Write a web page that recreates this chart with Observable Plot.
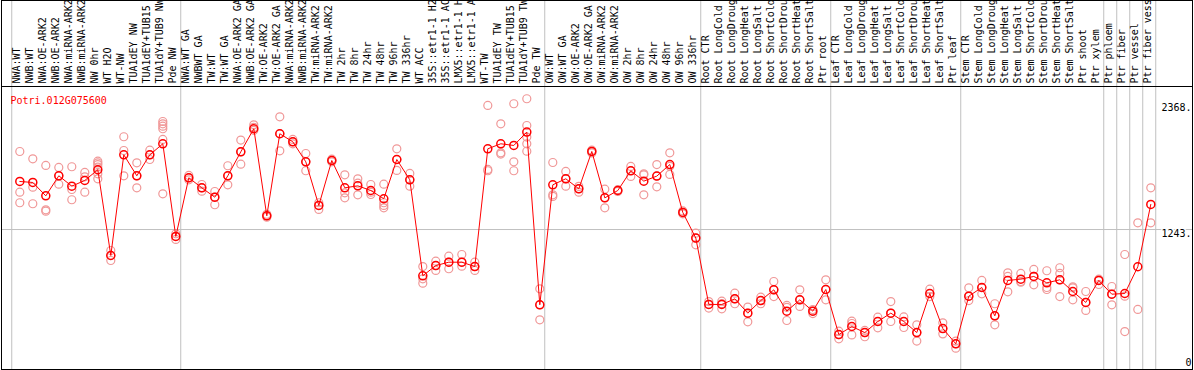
<!DOCTYPE html>
<html><head><meta charset="utf-8">
<script src="https://cdn.jsdelivr.net/npm/d3@7"></script>
<script src="https://cdn.jsdelivr.net/npm/@observablehq/plot@0.6"></script>
<style>
body{margin:0;background:#fff;}
#chart svg{display:block;}
</style></head><body><div id="chart"></div>
<script>
const title = "Potri.012G075600";
const labels = [
"NWA:WT","NWB:WT","NWA:OE-ARK2","NWB:OE-ARK2","NWA:miRNA-ARK2","NWB:miRNA-ARK2","NW 0hr","WT H2O","WT-NW","TUA1dEY NW","TUA1dEY+TUB15","TUA1dY+TUB9 NW","Pde NW",
"NWA:WT GA","NWBWT GA","TW:WT","TW:WT GA","NWA:OE-ARK2 GA","NWB:OE-ARK2 GA","TW:OE-ARK2","TW:OE-ARK2 GA","NWA:miRNA-ARK2","NWB:miRNA-ARK2","TW:miRNA-ARK2","TW:miRNA-ARK2","TW 2hr","TW 8hr","TW 24hr","TW 48hr","TW 96hr","TW 336hr","WT ACC","35S::etr1-1 H2","35S::etr1-1 AC","LMX5::etr1-1 H","LMX5::etr1-1 A","WT-TW","TUA1dEY TW","TUA1dEY+TUB15","TUA1dY+TUB9 TW","Pde TW",
"OW:WT","OW:WT GA","OW:OE-ARK2","OW:OE-ARK2 GA","OW:miRNA-ARK2","OW:miRNA-ARK2","OW 2hr","OW 8hr","OW 24hr","OW 48hr","OW 96hr","OW 336hr",
"Root CTR","Root LongCold","Root LongDroug","Root LongHeat","Root LongSalt","Root ShortCold","Root ShortDrou","Root ShortHeat","Root ShortSalt","Ptr root",
"Leaf CTR","Leaf LongCold","Leaf LongDroug","Leaf LongHeat","Leaf LongSalt","Leaf ShortCold","Leaf ShortDrou","Leaf ShortHeat","Leaf ShortSalt","Ptr leaf",
"Stem CTR","Stem LongCold","Stem LongDroug","Stem LongHeat","Stem LongSalt","Stem ShortCold","Stem ShortDrou","Stem ShortHeat","Stem ShortSalt","Ptr shoot","Ptr xylem",
"Ptr phloem","Ptr fiber","Ptr vessel","Ptr fiber vess"];

const means = [
1674,1665,1545,1725,1632,1683,1779,1010,1913,1725,1913,2012,1181,
1707,1617,1533,1725,1940,2147,1366,2102,2030,1850,1459,1862,1617,1635,1593,1519,1871,1689,828,920,950,950,911,1967,2012,1997,2117,568,
1644,1698,1608,1943,1527,1593,1770,1677,1722,1826,1396,1166,
571,571,621,493,606,702,511,612,511,705,
301,373,319,418,493,418,319,669,355,218,
645,723,469,786,798,822,765,792,687,589,786,
663,669,909,1468];

const reps = [
[1943,1578,1483],[1877,1623,1474],[1818,1420,1408],[1800,1650,1725],[1806,1602,1510],[1755,1578,1716],
[1856,1840,1826,1803,1743,1698],[1055,1010,965],[2075,1952,1725],[1841,1617,1725],[1955,1871,1913],
[2212,2191,2170,2147,2051,1563],[1205,1181,1154],
[1728,1707,1689],[1647,1617,1587],[1584,1533,1465],[1815,1725,1644],[2045,1940,1829],[2182,2160,2133],
[1366,1354,1380],[2254,2102,1949],[2051,2030,2012],[1925,1850,1770],[1483,1459,1423],[1874,1862,1850],
[1734,1572,1527],[1698,1659,1554],[1647,1578,1557],[1650,1483,1459,1438],[1967,1773,1871],[1746,1632,1689],
[911,801,762],[959,920,876],[1004,950,891],[1019,950,914],[950,911,876],
[2356,1782,1770],[2191,1931,1920],[2371,1850,1770],[2416,2176,2072,2012,1946],[711,568,433],
[1844,1554,1540],[1764,1698,1632],[1630,1608,1578],[1955,1943,1930],[1605,1527,1438],[1600,1593,1585],
[1809,1719,1770],[1743,1734,1554],[1826,1722,1626],[1931,1810,1737],[1410,1396,1384],[1210,1166,1106],
[597,571,538],[600,578,532],[672,621,577],[547,493,415],[636,606,577],[777,702,642],[562,545,427],
[702,612,553],[525,511,489],[792,705,612],
[331,301,263],[421,400,298],[338,319,281],[457,418,361],[597,493,418],[459,418,364],[388,319,242],
[708,669,642],[406,355,307],[242,218,179],
[720,645,606],[786,723,666],[577,469,388],[855,822,684],[849,777,770],[885,822,747],[873,723,705],
[900,849,792,642],[729,720,612],[687,589,517],[798,786,750],
[732,663,568],[1019,645,328],[1303,526],[1617,1303]];

const groupStarts = [1,14,42,54,64,74,85,86,87,88,89];
const yTicks = [0,1243,2368];

const idx = labels.map((_, i) => i + 1);
const repData = reps.flatMap((r, i) => r.map(v => ({i: i + 1, v})));
const seps = groupStarts.map(g => g - 0.62);

const W = 1194;
const font = "DejaVu Sans Mono, monospace";
const xScale = {type: "linear", domain: [1, labels.length], range: [19.3, 1150.3], axis: null};
const style = {fontFamily: font, fontSize: "10px", background: "white", color: "black"};

const header = Plot.plot({
  width: W, height: 86, marginTop: 0, marginBottom: 0, marginLeft: 1, marginRight: 2,
  x: xScale,
  style,
  marks: [
    Plot.gridX(seps, {stroke: "#c0c0c0", strokeOpacity: 1}),
    Plot.frame({stroke: "black"}),
    Plot.text(idx, {x: d => d, text: d => labels[d - 1], frameAnchor: "bottom", rotate: -90,
      textAnchor: "start", dy: -3, fill: "black", fontFamily: font, fontSize: 10})
  ]
});

const main = Plot.plot({
  width: W, height: 284, marginTop: 0, marginBottom: 1, marginLeft: 1, marginRight: 2,
  x: xScale,
  y: {domain: [0, yTicks[2]], range: [281.6, 17.6], axis: null},
  style,
  marks: [
    Plot.gridX(seps, {stroke: "#c0c0c0", strokeOpacity: 1}),
    Plot.ruleY([yTicks[1]], {stroke: "#c0c0c0"}),
    Plot.frame({stroke: "black"}),
    Plot.dot(repData, {x: "i", y: "v", r: 4, stroke: "#f09898", strokeWidth: 1.2}),
    Plot.line(idx, {x: d => d, y: d => means[d - 1], stroke: "red", strokeWidth: 1}),
    Plot.dot(idx, {x: d => d, y: d => means[d - 1], r: 4, stroke: "red", strokeWidth: 1.5}),
    Plot.text(yTicks.filter(d => d > 0), {y: d => d, text: d => d + ".", frameAnchor: "right",
      textAnchor: "end", dx: -1, dy: 4, fill: "black", stroke: "white", strokeWidth: 3,
      fontFamily: font, fontSize: 10}),
    Plot.text(yTicks.filter(d => d === 0), {y: d => d, text: d => String(d), frameAnchor: "right",
      textAnchor: "end", dx: -1, dy: -5, fill: "black", fontFamily: font, fontSize: 10}),
    Plot.text([title], {frameAnchor: "top-left", dx: 9, dy: 10.5, textAnchor: "start",
      fill: "red", fontFamily: font, fontSize: 10})
  ]
});

const el = document.getElementById("chart");
el.appendChild(header);
el.appendChild(main);
</script></body></html>
